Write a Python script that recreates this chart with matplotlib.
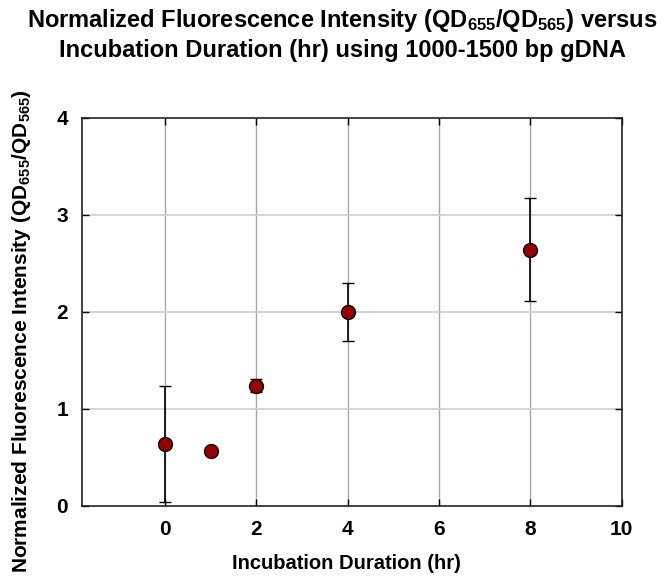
import matplotlib
matplotlib.use("Agg")
import matplotlib.pyplot as plt

plt.rcParams['font.family'] = ['Liberation Sans', 'DejaVu Sans']
plt.rcParams['font.weight'] = 'bold'
plt.rcParams['mathtext.fontset'] = 'custom'
plt.rcParams['mathtext.rm'] = 'Liberation Sans:bold'
plt.rcParams['mathtext.default'] = 'rm'

hours = [0, 1, 2, 4, 8]
intensity = [0.64, 0.57, 1.24, 2.00, 2.64]
error = [0.60, 0.0, 0.07, 0.30, 0.53]
x_ticks = [0, 2, 4, 6, 8, 10]
y_ticks = [0, 1, 2, 3, 4]

fig = plt.figure(figsize=(6.65, 5.78), dpi=100)
ax = fig.add_axes([0.123, 0.1246, 0.812, 0.6714])

for xv in x_ticks:
    ax.axvline(xv, color='#a8a8a8', lw=1.0, zorder=0)
for yv in y_ticks[1:-1]:
    ax.axhline(yv, color='#cccccc', lw=1.2, zorder=0)

ax.errorbar(hours, intensity, yerr=error, fmt='none', ecolor='black',
            elinewidth=1.2, capsize=4.5, capthick=1.0, zorder=2)
ax.plot(hours, intensity, 'o', color='#990000', markeredgecolor='black',
        markeredgewidth=1.0, markersize=10, zorder=3)

ax.set_xlim(-1.82, 10)
ax.set_ylim(0, 4)
ax.set_xticks(x_ticks)
ax.set_yticks(y_ticks)
ax.tick_params(direction='in', length=5, width=1, top=True, right=True,
               labelsize=15, pad=10, colors='black')
for lab in ax.get_xticklabels() + ax.get_yticklabels():
    lab.set_fontweight('bold')
for s in ax.spines.values():
    s.set_linewidth(1.2)
    s.set_color('#222222')

ax.set_xlabel('Incubation Duration (hr)', fontsize=14.5, fontweight='bold')
ax.xaxis.set_label_coords(0.49, -0.125)
ax.set_ylabel('Normalized Fluorescence Intensity (QD$_{655}$/QD$_{565}$)',
              fontsize=15, fontweight='bold')
ax.yaxis.set_label_coords(-0.09, 0.45)

fig.suptitle('Normalized Fluorescence Intensity (QD$_{655}$/QD$_{565}$) versus\n'
             'Incubation Duration (hr) using 1000-1500 bp gDNA',
             x=0.515, y=0.988, fontsize=17, fontweight='bold', linespacing=1.3)

fig.savefig('out.png', dpi=100)
